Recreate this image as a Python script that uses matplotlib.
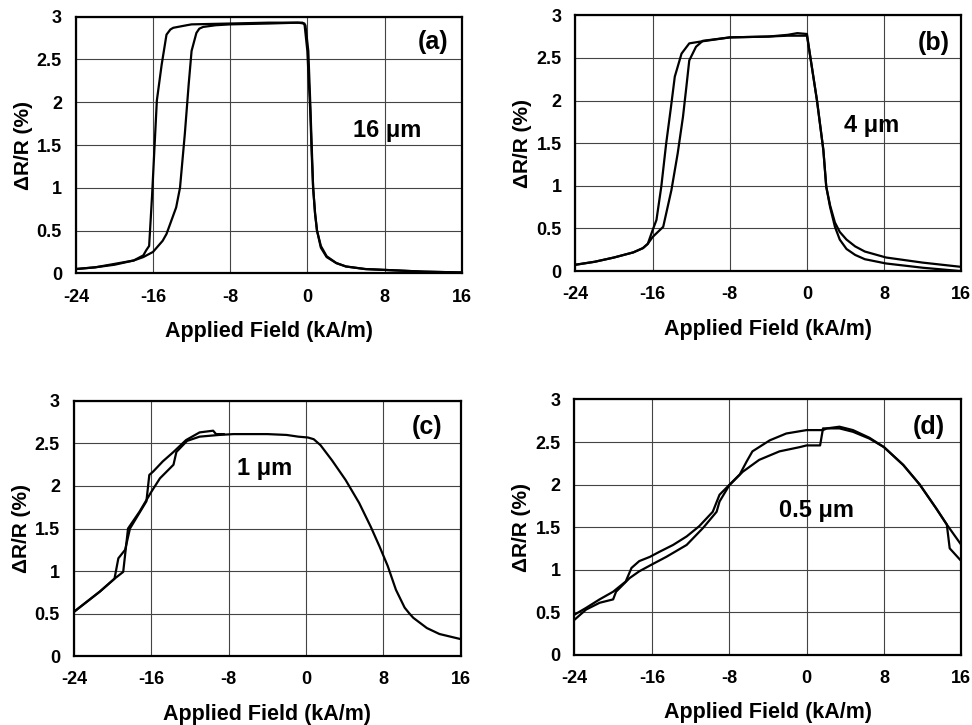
import numpy as np
import matplotlib
matplotlib.use('Agg')
import matplotlib.pyplot as plt

plt.rcParams['font.family'] = ['Liberation Sans', 'DejaVu Sans']
plt.rcParams['font.weight'] = 'bold'
plt.rcParams['axes.unicode_minus'] = False

# (a) 16 um
a_down_x = [16, 12, 8, 6, 4, 3, 2, 1.4, 1.0, 0.8, 0.6, 0.45, 0.3, 0.1, -0.2, -0.5, -4, -8, -12, -12.5, -13.9, -14.2, -14.6, -15.1, -15.6, -16.1, -16.4, -16.7, -17, -18, -20, -22, -24]
a_down_y = [0.01, 0.02, 0.04, 0.05, 0.08, 0.12, 0.19, 0.3, 0.5, 0.7, 1.0, 1.5, 2.0, 2.6, 2.9, 2.93, 2.93, 2.92, 2.91, 2.9, 2.87, 2.85, 2.79, 2.44, 2.02, 0.9, 0.32, 0.27, 0.21, 0.15, 0.1, 0.07, 0.05]
a_up_x = [-24, -22, -20, -18, -17, -16, -15, -14.6, -13.6, -13.2, -12.7, -12.3, -12.0, -11.5, -11.2, -10.8, -9.5, -8, -4, -1, -0.3, 0, 0.3, 0.45, 0.6, 0.8, 1.0, 1.4, 2, 3, 4, 6, 8, 12, 16]
a_up_y = [0.05, 0.07, 0.11, 0.15, 0.19, 0.25, 0.38, 0.46, 0.77, 1.0, 1.63, 2.21, 2.6, 2.81, 2.86, 2.88, 2.9, 2.91, 2.92, 2.93, 2.92, 2.6, 1.9, 1.4, 1.0, 0.7, 0.5, 0.32, 0.2, 0.12, 0.08, 0.05, 0.04, 0.02, 0.01]

# (b) 4 um
b_down_x = [16, 12, 8.2, 6, 5, 4.1, 3.4, 2.9, 2.4, 2.0, 1.7, 1.04, 0.35, 0, -2, -4, -8, -11.1, -12.2, -13.0, -13.7, -14.1, -14.6, -15.1, -15.6, -16, -16.5, -17, -18, -20, -22, -24]
b_down_y = [0.0, 0.04, 0.09, 0.14, 0.19, 0.26, 0.37, 0.52, 0.75, 0.99, 1.42, 2.0, 2.51, 2.76, 2.76, 2.75, 2.74, 2.69, 2.67, 2.55, 2.28, 1.92, 1.49, 0.99, 0.6, 0.48, 0.32, 0.27, 0.22, 0.16, 0.11, 0.075]
b_up_x = [-24, -22, -20, -18, -17, -16.5, -16, -14.9, -14.05, -13.4, -12.85, -12.5, -12.2, -11.5, -10.8, -8, -4, -2, -1, 0, 0.35, 1.04, 1.7, 2.0, 2.4, 2.9, 3.4, 4.1, 5, 6, 8.2, 12, 16]
b_up_y = [0.075, 0.11, 0.16, 0.22, 0.27, 0.32, 0.4, 0.52, 0.95, 1.38, 1.81, 2.16, 2.47, 2.63, 2.7, 2.74, 2.75, 2.77, 2.79, 2.78, 2.51, 2.0, 1.42, 0.99, 0.77, 0.57, 0.46, 0.37, 0.29, 0.23, 0.16, 0.1, 0.05]

# (c) 1 um
c_a_x = [-24, -21.3, -19.8, -19.4, -18.7, -18.2, -16.5, -16.2, -15.8, -14.8, -13.7, -12.4, -11.0, -9.6, -9.3, -8.5]
c_a_y = [0.52, 0.76, 0.91, 1.15, 1.25, 1.5, 1.82, 2.13, 2.17, 2.29, 2.4, 2.54, 2.63, 2.65, 2.61, 2.61]
c_b_x = [-24, -21.3, -19.8, -18.9, -18.4, -17.2, -16, -15.1, -13.7, -13.4, -12.3, -11.0, -9, -7.5, -4, -2, -0.8, 0.2, 0.8, 1.5, 2.7, 4.1, 5.5, 6.7, 7.6, 8.45, 9.3, 10.2, 10.7, 11.1, 12.5, 13.8, 16]
c_b_y = [0.52, 0.76, 0.91, 0.99, 1.5, 1.7, 1.93, 2.09, 2.25, 2.4, 2.53, 2.58, 2.6, 2.61, 2.61, 2.6, 2.58, 2.57, 2.55, 2.48, 2.30, 2.07, 1.80, 1.52, 1.29, 1.06, 0.78, 0.57, 0.5, 0.45, 0.33, 0.26, 0.2]

# (d) 0.5 um
d_a_x = [-24, -22.8, -21.4, -20.0, -18.7, -18.1, -17.3, -16.2, -15.2, -13.8, -12.4, -11.1, -9.7, -9.0, -8.3, -6.9, -6.2, -5.6, -3.8, -2.1, 0, 1.7, 2.1, 3.4, 4.8, 6.5, 8, 10, 11.7, 13.4, 14.5, 16]
d_a_y = [0.47, 0.55, 0.65, 0.74, 0.86, 1.02, 1.1, 1.15, 1.21, 1.29, 1.39, 1.51, 1.68, 1.88, 1.96, 2.12, 2.27, 2.39, 2.52, 2.6, 2.64, 2.64, 2.66, 2.68, 2.64, 2.55, 2.44, 2.23, 2.0, 1.72, 1.53, 1.29]
d_b_x = [-24, -22.8, -21.4, -20, -19.7, -18.3, -17.3, -16, -14.5, -12.4, -10.7, -9.3, -9.0, -8.0, -6.6, -4.9, -2.8, -0.7, 0, 1.4, 1.7, 3.4, 4.8, 6.5, 8, 10, 11.7, 13.4, 14.5, 14.8, 16]
d_b_y = [0.41, 0.53, 0.61, 0.65, 0.74, 0.9, 0.98, 1.06, 1.15, 1.29, 1.49, 1.68, 1.80, 1.99, 2.15, 2.29, 2.39, 2.44, 2.46, 2.46, 2.66, 2.66, 2.62, 2.54, 2.44, 2.23, 2.0, 1.72, 1.53, 1.25, 1.10]

panels = [
    ([0.078, 0.623, 0.397, 0.354], [(a_down_x, a_down_y), (a_up_x, a_up_y)], '(a)', (13.0, 2.7), '16 μm', (8.3, 1.67)),
    ([0.592, 0.626, 0.397, 0.353], [(b_down_x, b_down_y), (b_up_x, b_up_y)], '(b)', (13.1, 2.67), '4 μm', (6.7, 1.71)),
    ([0.076, 0.095, 0.398, 0.352], [(c_a_x, c_a_y), (c_b_x, c_b_y)], '(c)', (12.5, 2.69), '1 μm', (-4.3, 2.2)),
    ([0.591, 0.097, 0.398, 0.352], [(d_a_x, d_a_y), (d_b_x, d_b_y)], '(d)', (12.6, 2.68), '0.5 μm', (1.0, 1.7)),
]

fig = plt.figure(figsize=(9.72, 7.25), dpi=100)

for rect, branches, tag, tag_pos, size, size_pos in panels:
    ax = fig.add_axes(rect)
    for bx, by in branches:
        ax.plot(bx, by, color='black', lw=1.6, solid_joinstyle='round')
    ax.set_xlim(-24, 16)
    ax.set_ylim(0, 3)
    ax.set_xticks([-24, -16, -8, 0, 8, 16])
    ax.set_yticks([0, 0.5, 1, 1.5, 2, 2.5, 3])
    ax.set_yticklabels(['0', '0.5', '1', '1.5', '2', '2.5', '3'])
    ax.grid(True, color='#444444', lw=0.8)
    ax.set_axisbelow(True)
    ax.tick_params(length=0, labelsize=13)
    ax.tick_params(axis='x', pad=11)
    ax.tick_params(axis='y', pad=10)
    for s in ax.spines.values():
        s.set_linewidth(1.6)
        s.set_color('black')
    ax.set_xlabel('Applied Field (kA/m)', fontsize=15.5, fontweight='bold', labelpad=11)
    ax.set_ylabel('ΔR/R (%)', fontsize=15, fontweight='bold', labelpad=3)
    ax.text(tag_pos[0], tag_pos[1], tag, fontsize=18, fontweight='bold', ha='center', va='center')
    ax.text(size_pos[0], size_pos[1], size, fontsize=17, fontweight='bold', ha='center', va='center')

fig.savefig('out.png', dpi=100, facecolor='white')
